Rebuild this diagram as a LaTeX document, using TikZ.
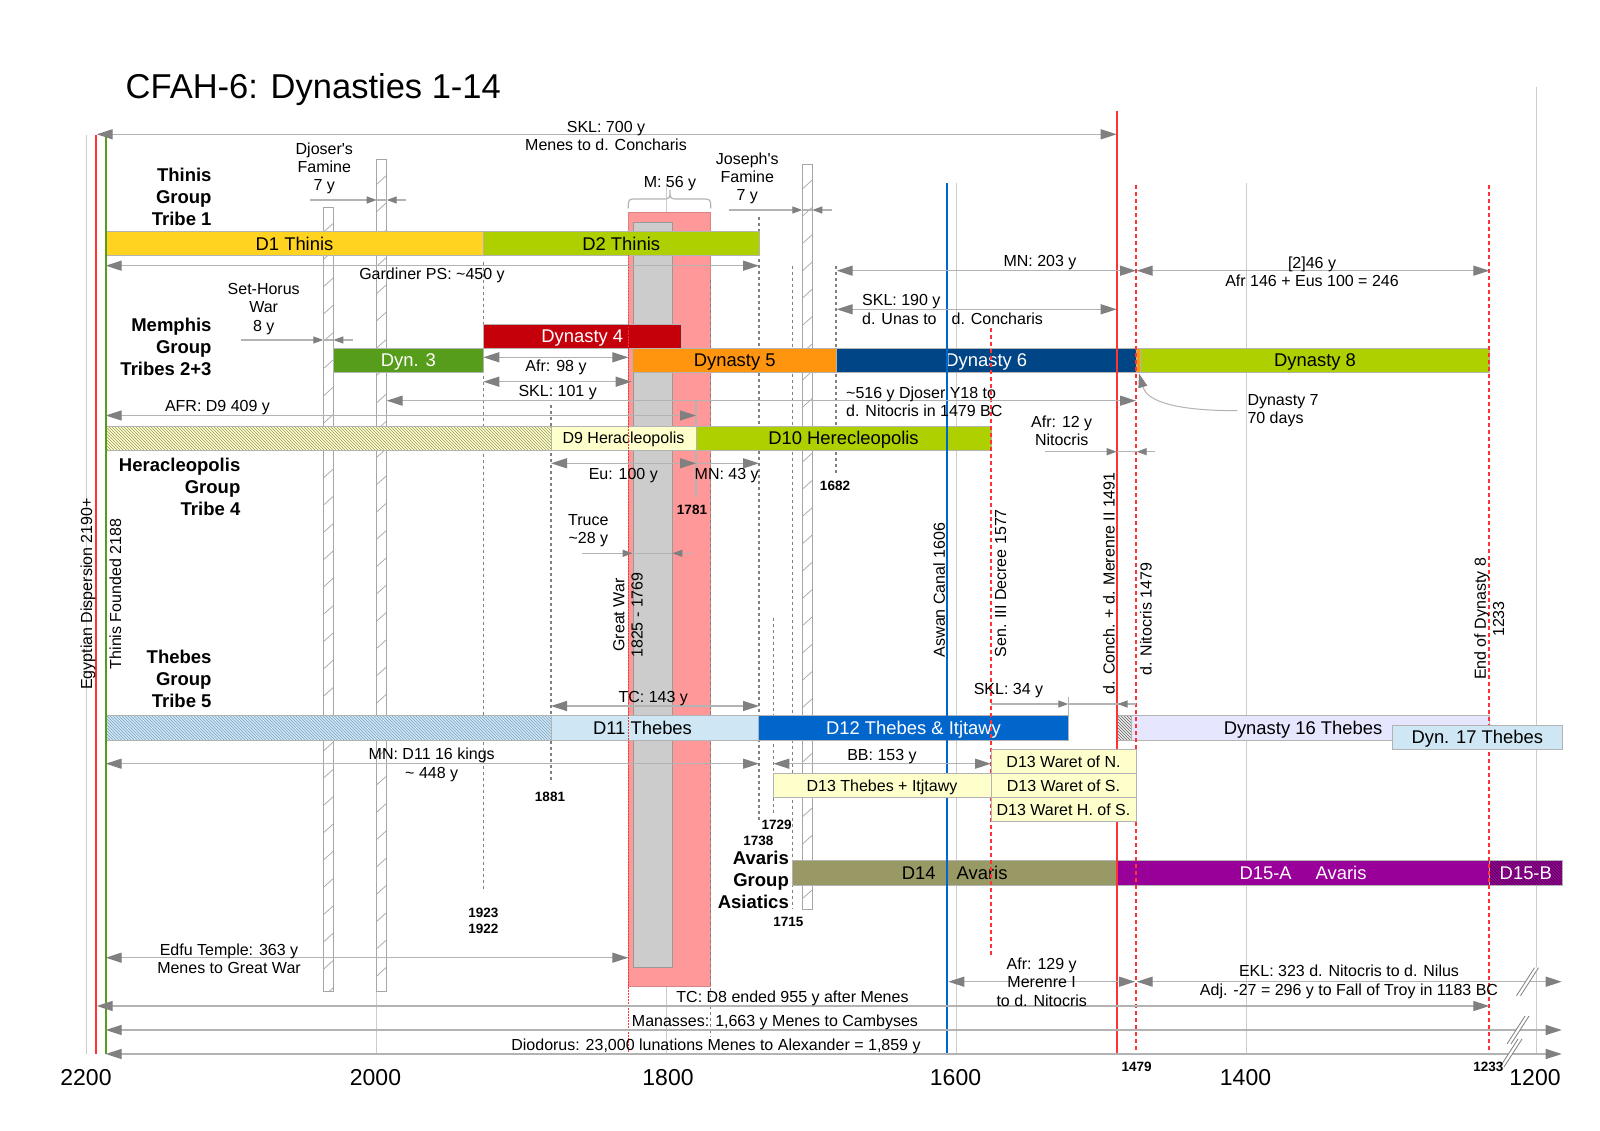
\documentclass[tikz,border=0pt]{standalone}
\usepackage{fontspec}
\setmainfont{Liberation Sans}[Ligatures=TeXOff]
\usetikzlibrary{arrows.meta,patterns}
\definecolor{lng}{HTML}{B3B3B3}
\definecolor{arg}{HTML}{808080}
\definecolor{gridc}{HTML}{CCCCCC}
\definecolor{barln}{HTML}{B3B3B3}
\definecolor{colln}{HTML}{A6A6A6}
\definecolor{cD1}{HTML}{FFD320}
\definecolor{cYG}{HTML}{AECF00}
\definecolor{cD3}{HTML}{579D1C}
\definecolor{cD4}{HTML}{C5000B}
\definecolor{cD5}{HTML}{FF950E}
\definecolor{cD6}{HTML}{004586}
\definecolor{cPY}{HTML}{FFFFCC}
\definecolor{cLB}{HTML}{CFE7F5}
\definecolor{cD12}{HTML}{0066CC}
\definecolor{cD16}{HTML}{E6E6FF}
\definecolor{cD14}{HTML}{999966}
\definecolor{cD15}{HTML}{990099}
\definecolor{cGW}{HTML}{FF9999}
\definecolor{cGR}{HTML}{CCCCCC}
\definecolor{cRed}{HTML}{FF3333}
\definecolor{cGreen}{HTML}{579D1C}
\definecolor{cBlue}{HTML}{0066CC}
\definecolor{cDash}{HTML}{808080}
\definecolor{cThH}{HTML}{7FA3C2}
\newcommand\lbl{\fontsize{16}{18.3}\selectfont}
\newcommand\barf{\fontsize{18.4}{21}\selectfont}
\newcommand\grpf{\fontsize{18.5}{22}\selectfont\bfseries}
\newcommand\yrf{\fontsize{13.5}{16}\selectfont\bfseries}
\newcommand\axf{\fontsize{23}{26}\selectfont}
\newcommand\ttlf{\fontsize{34.5}{40}\selectfont}
\newcommand\dynbar[9]{%
  \path[draw=barln, fill=#6, line width=0.8pt] (#2,#4) rectangle (#3,#5);
  \node[anchor=base, text=#7, font=\barf, inner sep=0] (#1) at (#8,{(#4+#5)/2+6.6}) {#9};}
\newcommand\smbar[9]{%
  \path[draw=barln, fill=#6, line width=0.8pt] (#2,#4) rectangle (#3,#5);
  \node[anchor=base, text=#7, font=\lbl, inner sep=0] (#1) at (#8,{(#4+#5)/2+5.7}) {#9};}
\newcommand\hatchbar[6]{%
  \path[fill=#5] (#1,#3) rectangle (#2,#4);
  \path[pattern=north west lines, pattern color=#6] (#1,#3) rectangle (#2,#4);
  \path[draw=barln, line width=0.8pt] (#1,#3) rectangle (#2,#4);}
\newcommand\hatchcol[4]{%
  \path[draw=colln, fill=white, line width=0.8pt] (#1,#3) rectangle (#2,#4);
  \begin{scope}
    \clip (#1,#3) rectangle (#2,#4);
    \foreach \k in {0,...,36}{\draw[colln, line width=0.7pt] (#1,{#3+25+27.3*\k}) -- (#2,{#3+16+27.3*\k});}
  \end{scope}}
\newcommand\breakmark[2]{%
  \fill[white] ({#1-11},{#2+14}) -- ({#1+7},{#2-14}) -- ({#1+11},{#2-14}) -- ({#1-7},{#2+14}) -- cycle;
  \draw[arg, line width=0.8pt] ({#1-11},{#2+14}) -- ({#1+7},{#2-14}) ({#1-7},{#2+14}) -- ({#1+11},{#2-14});}
\tikzset{
  lab/.style={font=\lbl, inner sep=0, align=center},
  grp/.style={font=\grpf, inner sep=0, align=right, anchor=east},
  yr/.style={font=\yrf, inner sep=0},
  dimln/.style={draw=lng, line width=1.3pt},
  dimLR/.style={dimln, {Triangle[length=16pt,width=10pt,color=arg]}-{Triangle[length=16pt,width=10pt,color=arg]}},
  dimR/.style={dimln, -{Triangle[length=16pt,width=10pt,color=arg]}},
  dimS/.style={dimln, -{Triangle[length=10pt,width=7pt,color=arg]}},
  gdash/.style={draw=cDash, line width=1.5pt, dash pattern=on 3pt off 3pt},
  rdot/.style={draw=cRed, line width=2pt, dash pattern=on 4pt off 3pt},
  gridl/.style={draw=gridc, line width=1pt},
}
\begin{document}
\begin{tikzpicture}[x=1pt,y=-1pt]
\useasboundingbox (0,0) rectangle (1600,1131);
\fill[white] (0,0) rectangle (1600,1131);
% title
\node[anchor=base west, font=\ttlf, inner sep=0] (title) at (125.5,99) {CFAH-6: Dynasties 1-14};
% grid lines
\foreach \gx/\gt in {86.7/135, 376.7/183.3, 666.7/183.3, 956.7/183.3, 1246.7/183.3, 1536.7/87}
  \draw[gridl] (\gx,\gt) -- (\gx,1054);
% Great War block
\path[fill=cGW, draw=cGW!85!black, line width=0.6pt] (628.3,212.7) rectangle (710.7,986.7);
\path[fill=cGR, draw=arg!80, line width=0.8pt] (633.3,222.3) rectangle (672.3,967.3);
% gray dashed year lines
\draw[gdash] (483.3,261.7) -- (483.3,891.7);
\draw[gdash] (551,405) -- (551,783);
\draw[gdash] (759,216.7) -- (759,820);
\draw[gdash] (773.3,618) -- (773.3,813);
\draw[gdash] (792.7,265.7) -- (792.7,908.3);
\draw[gdash] (836,265.7) -- (836,473.3);
\draw[gdash] (710.7,280) -- (710.7,1037);
\draw[dimln] (696,400) -- (696,497);
% hatched columns
\hatchcol{323.3}{333.3}{207.3}{991}
\hatchcol{376.7}{386.7}{159.3}{991}
\hatchcol{802.3}{812.3}{164}{909.3}
% bars
\dynbar{d1}{105.7}{483.3}{231.7}{255.7}{cD1}{black}{294.5}{D1 Thinis}
\dynbar{d2}{483.3}{759}{231.7}{255.7}{cYG}{black}{621.2}{D2 Thinis}
\dynbar{d4}{483.3}{681.3}{324}{348}{cD4}{white}{582.3}{Dynasty 4}
\dynbar{d3}{333.3}{483.3}{348.3}{372}{cD3}{white}{408.3}{Dyn. 3}
\dynbar{d5}{632.7}{836.7}{348.3}{372}{cD5}{black}{734.7}{Dynasty 5}
\dynbar{d6}{836.7}{1136}{348.3}{372}{cD6}{white}{986.3}{Dynasty 6}
\path[fill=cD5, draw=barln, line width=0.5pt] (1136,348.3) rectangle (1140.7,372);
\dynbar{d8}{1140.7}{1489.3}{348.3}{372}{cYG}{black}{1315}{Dynasty 8}
\hatchbar{105.7}{551}{426}{450}{cPY}{cD14}
\smbar{d9}{551}{696}{426}{450}{cPY}{black}{623.5}{D9 Heracleopolis}
\dynbar{d10}{696}{991}{426}{450}{cYG}{black}{843.5}{D10 Herecleopolis}
\hatchbar{105.7}{551}{715.7}{740}{cLB}{cThH}
\dynbar{d11}{551}{758.7}{715.7}{740}{cLB}{black}{642.5}{D11 Thebes}
\dynbar{d12}{758.7}{1068.3}{715.7}{740}{cD12}{white}{913.5}{D12 Thebes \& Itjtawy}
\hatchbar{1116.7}{1131.7}{715.7}{740}{gray!15}{gray!80!black}
\dynbar{d16}{1131.7}{1489.3}{715.7}{740}{cD16}{black}{1303}{Dynasty 16 Thebes}
\dynbar{d14}{792.7}{1116.7}{860.7}{885}{cD14}{black}{954.7}{D14\hspace{21pt}Avaris}
\dynbar{d15a}{1116.7}{1489.3}{860.7}{885}{cD15}{white}{1303}{D15-A\hspace{24pt}Avaris}
\hatchbar{1489.3}{1562.3}{860.7}{885}{cD15}{cD15!45!black}
\node[anchor=base, text=white, font=\barf, inner sep=0] (d15b) at (1525.8,{872.85+6.6}) {D15-B};
% coloured vertical lines
\draw[cRed, line width=2pt] (96,135) -- (96,1054);
\draw[cGreen, line width=2pt] (105.7,135) -- (105.7,1054);
\draw[cRed, line width=2pt] (1116.7,111) -- (1116.7,1054);
\draw[cBlue, line width=2.2pt] (947.3,183.3) -- (947.3,1054);
\draw[rdot] (1136,185) -- (1136,1054);
\draw[rdot] (1489.3,185) -- (1489.3,1054);
\draw[rdot] (991,328.3) -- (991,957.7);
\draw[cRed, line width=1.5pt, dash pattern=on 1.5pt off 1.5pt] (628.3,255) -- (628.3,1053);
% boxes drawn over the lines
\smbar{d13n}{991}{1136}{749.3}{773.3}{cPY}{black}{1063.5}{D13 Waret of N.}
\smbar{d13t}{773.3}{991}{773.3}{797.3}{cPY}{black}{882}{D13 Thebes + Itjtawy}
\smbar{d13s}{991}{1136}{773.3}{797.3}{cPY}{black}{1063.5}{D13 Waret of S.}
\smbar{d13h}{991}{1136}{797.3}{821.7}{cPY}{black}{1063.5}{D13 Waret H. of S.}
\dynbar{d17}{1392.3}{1562.3}{725.3}{749.3}{cLB}{black}{1477.3}{Dyn. 17 Thebes}
% brace
\draw[lng, line width=1.2pt] (628.3,208.3) .. controls (628.3,199) .. (637,199) -- (661,199) .. controls (670,199) .. (670,190) .. controls (670,199) .. (679,199) -- (702,199) .. controls (710.7,199) .. (710.7,208.3);
% long arrows
\draw[dimLR] (96.7,134.3) -- (1116.7,134.3);
\draw[dimLR] (105.7,265.7) -- (759,265.7);
\draw[dimLR] (836.7,270.7) -- (1136,270.7);
\draw[dimLR] (1136.7,270.7) -- (1489.3,270.7);
\draw[dimLR] (836.7,309.3) -- (1116.7,309.3);
\draw[dimLR] (483.3,357.3) -- (628.3,357.3);
\draw[dimLR] (483.3,381.7) -- (631.7,381.7);
\draw[dimLR] (386.7,400.7) -- (1136,400.7);
\draw[dimLR] (105.7,415.5) -- (696,415.5);
\draw[dimLR] (551,463.3) -- (696,463.3);
\draw[dimR] (696,463.3) -- (759,463.3);
\draw[dimLR] (551,706) -- (759,706);
\draw[dimLR] (105.7,763.7) -- (759,763.7);
\draw[dimLR] (773.3,763.7) -- (991,763.7);
\draw[dimLR] (105.7,957.7) -- (628.3,957.7);
\draw[dimLR] (948.3,981.7) -- (1135,981.7);
\draw[dimLR] (1136.7,981.7) -- (1561.7,981.7);
\draw[dimLR] (96.7,1006) -- (1489.3,1006);
\draw[dimLR] (105.7,1030) -- (1561.7,1030);
\draw[dimLR] (105.7,1054) -- (1561.7,1054);
\breakmark{1527.5}{981.7}
\breakmark{1518}{1030}
\breakmark{1511}{1053}
% small width arrows
\draw[dimln] (376.7,200) -- (386.7,200);
\draw[dimS] (310,200) -- (376.7,200);
\draw[dimS] (406,200) -- (386.7,200);
\draw[dimln] (323.3,340) -- (333.3,340);
\draw[dimS] (241,340) -- (323.3,340);
\draw[dimS] (352.7,340) -- (333.3,340);
\draw[dimln] (802.3,210) -- (812.3,210);
\draw[dimS] (729.3,210) -- (802.3,210);
\draw[dimS] (831.7,210) -- (812.3,210);
\draw[dimln] (632.7,553.3) -- (672.3,553.3);
\draw[dimS] (581.7,553.3) -- (632.7,553.3);
\draw[dimS] (691.7,553.3) -- (672.3,553.3);
\draw[dimln] (1116.7,451.7) -- (1136.7,451.7);
\draw[dimS] (1045,451.7) -- (1116.7,451.7);
\draw[dimS] (1155,451.7) -- (1136.7,451.7);
\draw[dimln] (1068.3,696.7) -- (1068.3,715.7);
\draw[dimln] (1068.3,704) -- (1136,704);
\draw[dimS] (991,704) -- (1068.3,704);
\draw[dimS] (1136,704) -- (1117.5,704);
% Dynasty 7 pointer
\draw[draw=lng, line width=1pt, -{Triangle[length=14pt,width=9pt,color=arg]}] (1237.3,410.7) .. controls (1165,410.7) and (1146,398) .. (1139,373.5);
% labels
\node[lab] (skl700) at (606,136) {SKL: 700 y\\Menes to d. Concharis};
\node[lab] (djoser) at (324.3,168.5) {Djoser's\\Famine\\7 y};
\node[grp] (thgrp1) at (211.7,196.5) {Thinis\\Group\\Tribe 1};
\node[lab] (joseph) at (747.3,178.5) {Joseph's\\Famine\\7 y};
\node[lab, anchor=base] (m56) at (670,188) {M: 56 y};
\node[lab, anchor=base] (gard) at (432,280) {Gardiner PS: \textasciitilde 450 y};
\node[lab, anchor=base] (mn203) at (1040,266.7) {MN: 203 y};
\node[lab] (afr246) at (1312,271.5) {[2]46 y\\Afr 146 + Eus 100 = 246};
\node[lab] (sethorus) at (263.7,309) {Set-Horus\\War\\8 y};
\node[lab, align=left, anchor=west] (skl190) at (862,309.5) {SKL: 190 y\\d. Unas to\hspace{15pt}d. Concharis};
\node[grp] (memgrp) at (211.7,346.7) {Memphis\\Group\\Tribes 2+3};
\node[lab, anchor=base] (afr98) at (556,371.7) {Afr: 98 y};
\node[lab, anchor=base] (skl101) at (557.7,396) {SKL: 101 y};
\node[lab, align=left, anchor=west] (y516) at (846,401.5) {\textasciitilde 516 y Djoser Y18 to\\d. Nitocris in 1479 BC};
\node[lab, anchor=base] (afrd9) at (217.5,411.7) {AFR: D9 409 y};
\node[lab] (afr12) at (1061.7,431) {Afr: 12 y\\Nitocris};
\node[lab, align=left, anchor=west] (dyn7) at (1247.3,411) {Dynasty 7\\70 days};
\node[grp] (heragrp) at (240.5,486.7) {Heracleopolis\\Group\\Tribe 4};
\node[lab, anchor=base] (eu100) at (623.3,479) {Eu: 100 y};
\node[lab, anchor=base] (mn43) at (726.7,479) {MN: 43 y};
\node[yr, anchor=base] (y1682) at (835,490) {1682};
\node[yr, anchor=base] (y1781) at (692,514.3) {1781};
\node[lab] (truce) at (588.3,530.5) {Truce\\\textasciitilde 28 y};
\node[lab, rotate=90] (gwar) at (628,615) {Great War\\1825 - 1769};
\node[lab, rotate=90] (aswan) at (939.2,590) {Aswan Canal 1606};
\node[lab, rotate=90] (sen3) at (1000.5,583.3) {Sen. III Decree 1577};
\node[lab, rotate=90] (conch) at (1108.8,583.3) {d. Conch. + d. Merenre II 1491};
\node[lab, rotate=90] (nitoc) at (1145.8,619.2) {d. Nitocris 1479};
\node[lab, rotate=90] (end8) at (1489.2,619) {End of Dynasty 8\\1233};
\node[lab, rotate=90] (egdisp) at (88,594) {Egyptian Dispersion 2190+};
\node[lab, rotate=90] (thfound) at (115.5,594) {Thinis Founded 2188};
\node[grp] (thebgrp) at (211.7,679) {Thebes\\Group\\Tribe 5};
\node[lab, anchor=base] (tc143) at (653.3,702.3) {TC: 143 y};
\node[lab, anchor=base] (skl34) at (1008.5,694) {SKL: 34 y};
\node[lab] (mnd11) at (431.7,765) {MN: D11 16 kings\\\textasciitilde{} 448 y};
\node[lab, anchor=base] (bb153) at (882,760) {BB: 153 y};
\node[yr, anchor=base] (y1881) at (550,801.7) {1881};
\node[yr, anchor=base] (y1729) at (776.7,829) {1729};
\node[yr, anchor=base] (y1738) at (758.3,845) {1738};
\node[grp] (avgrp) at (789,880) {Avaris\\Group\\Asiatics};
\node[yr, anchor=base] (y1715) at (788.3,926) {1715};
\node[yr, anchor=base] (y1923) at (483.3,917.3) {1923};
\node[yr, anchor=base] (y1922) at (483.3,933.3) {1922};
\node[lab] (edfu) at (229,958.5) {Edfu Temple: 363 y\\Menes to Great War};
\node[lab] (afr129) at (1041.7,982) {Afr: 129 y\\Merenre I\\to d. Nitocris};
\node[lab] (ekl) at (1349,982) {EKL: 323 d. Nitocris to d. Nilus\\Adj. -27 = 296 y to Fall of Troy in 1183 BC};
\node[lab, anchor=base] (tcd8) at (792.5,1002.7) {TC: D8 ended 955 y after Menes};
\node[lab, anchor=base] (manas) at (775,1026.7) {Manasses: 1,663 y Menes to Cambyses};
\node[lab, anchor=base] (diod) at (716,1050.7) {Diodorus: 23,000 lunations Menes to Alexander = 1,859 y};
\node[yr, anchor=base] (y1479) at (1136.7,1071.7) {1479};
\node[yr, anchor=base] (y1233) at (1488.3,1071.7) {1233};
% axis labels
\foreach \ax/\at in {86/2200, 375.5/2000, 668/1800, 955.5/1600, 1245.5/1400, 1535/1200}
  \node[anchor=base, font=\axf, inner sep=0] (ax\at) at (\ax,1085) {\at};
\end{tikzpicture}
\end{document}
